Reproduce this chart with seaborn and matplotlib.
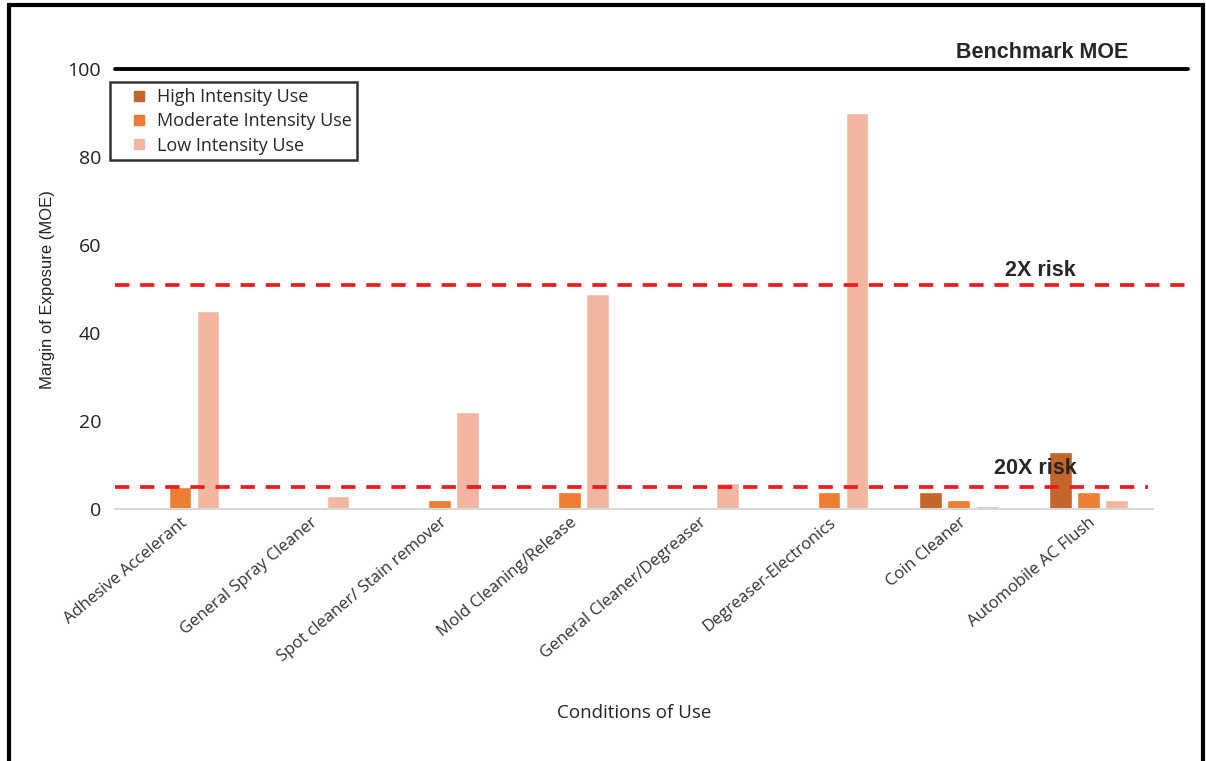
import pandas as pd
import matplotlib.pyplot as plt
from matplotlib.patches import Rectangle
from matplotlib.lines import Line2D
import seaborn as sns

# Data
conditions = ['Adhesive Accelerant', 'General Spray Cleaner', 'Spot cleaner/ Stain remover',
              'Mold Cleaning/Release', 'General Cleaner/Degreaser', 'Degreaser-Electronics',
              'Coin Cleaner', 'Automobile AC Flush']
high_use = [0, 0, 0, 0, 0, 0, 4, 13]
moderate_use = [5, 0, 2, 4, 0, 4, 2, 4]
low_use = [45, 3, 22, 49, 6, 90, 0.7, 2]
intensity_names = ['High Intensity Use', 'Moderate Intensity Use', 'Low Intensity Use']
benchmark_moe = 100
risk_2x = 51
risk_20x = 5

sns.set_style('white')
plt.rcParams['font.family'] = ['Open Sans', 'DejaVu Sans']

df = pd.DataFrame({
    'Condition': conditions * 3,
    'MOE': high_use + moderate_use + low_use,
    'Intensity': [intensity_names[0]] * 8 + [intensity_names[1]] * 8 + [intensity_names[2]] * 8,
})

palette = {intensity_names[0]: '#C4652B',
           intensity_names[1]: '#ED7D31',
           intensity_names[2]: '#F3B7A1'}

fig = plt.figure(figsize=(12.06, 7.61), dpi=100)
ax = fig.add_axes([0.0954, 0.331, 0.861, 0.578])

sns.barplot(data=df, x='Condition', y='MOE', hue='Intensity', hue_order=intensity_names,
            palette=palette, width=0.65, gap=0.2, ax=ax, saturation=1, legend=False)

ax.set_ylim(0, 100)
ax.set_yticks([0, 20, 40, 60, 80, 100])
ax.tick_params(axis='y', labelsize=14, length=0, pad=10, labelcolor='#222222')
ax.tick_params(axis='x', length=0, pad=4)
ax.set_xticks(range(len(conditions)))
ax.set_xticklabels(conditions, rotation=40, ha='right', rotation_mode='anchor',
                   fontsize=12, color='#333333')
ax.set_ylabel('Margin of Exposure (MOE)', fontsize=12, labelpad=9, color='#222222',
              family='Liberation Sans')
ax.set_xlabel('Conditions of Use', fontsize=13.5, labelpad=28)

for s in ['top', 'right', 'left']:
    ax.spines[s].set_visible(False)
ax.spines['bottom'].set_color('#d9d9d9')
ax.spines['bottom'].set_linewidth(1.5)

# reference lines
ax.axhline(benchmark_moe, xmin=0, xmax=1.033, color='black', lw=2.8, clip_on=False)
ax.axhline(risk_2x, xmin=0, xmax=1.033, color='#EE1C1C', lw=2.7, ls=(0, (3.8, 2.9)), clip_on=False)
ax.axhline(risk_20x, xmin=0, xmax=0.995, color='#EE1C1C', lw=2.7, ls=(0, (3.8, 2.9)), clip_on=False)

tr = ax.get_yaxis_transform()
ax.text(0.976, 103.9, 'Benchmark MOE', transform=tr, ha='right', va='center',
        fontsize=15.5, fontweight='bold', family='Liberation Sans')
ax.text(0.891, 54.3, '2X risk', transform=tr, ha='center', va='center',
        fontsize=15.5, fontweight='bold', family='Liberation Sans')
ax.text(0.886, 9.3, '20X risk', transform=tr, ha='center', va='center',
        fontsize=15.5, fontweight='bold', family='Liberation Sans')

handles = [Line2D([], [], marker='s', ls='', markersize=7, color=palette[n], label=n)
           for n in intensity_names]
leg = ax.legend(handles=handles, loc='upper left', bbox_to_anchor=(-0.005, 0.97), fontsize=13,
                handlelength=2.6, handletextpad=-0.3, fancybox=False, frameon=True,
                borderpad=0.3, labelspacing=0.35, borderaxespad=0)
leg.get_frame().set_edgecolor('black')
leg.get_frame().set_linewidth(1.8)

# frame around the whole picture
fig.patches.append(Rectangle((0.0075, -0.05), 0.99, 1.043, transform=fig.transFigure,
                             fill=False, edgecolor='black', lw=3))

fig.savefig('out.png', dpi=100)
